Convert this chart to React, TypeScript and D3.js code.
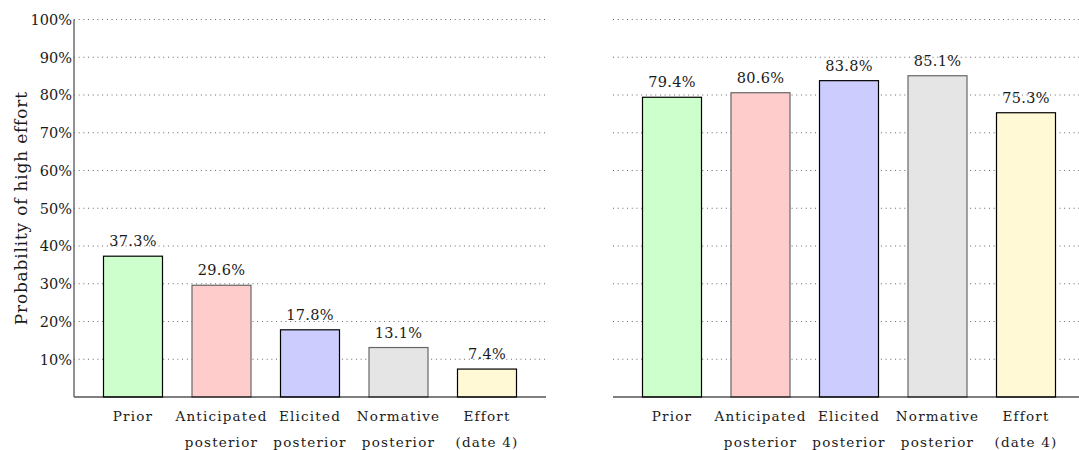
import React from "react";
import * as d3 from "d3";

const categories = ["Prior", "Anticipated posterior", "Elicited posterior", "Normative posterior", "Effort (date 4)"];
const categoryLines = [["Prior"], ["Anticipated", "posterior"], ["Elicited", "posterior"], ["Normative", "posterior"], ["Effort", "(date 4)"]];
const leftValues = [37.3, 29.6, 17.8, 13.1, 7.4];
const rightValues = [79.4, 80.6, 83.8, 85.1, 75.3];
const yTicks = [10, 20, 30, 40, 50, 60, 70, 80, 90, 100];
const fills = ["#ccffcc", "#ffcccc", "#ccccff", "#e5e5e5", "#fff9d6"];
const strokes = ["#000", "#666", "#000", "#666", "#000"];

const W = 1079;
const H = 450;
const FONT = "'DejaVu Serif', serif";
const INK = "#1a1a1a";

const y = d3.scaleLinear().domain([0, 100]).range([397, 19.5]);

function Panel({ x0, x1, values, showAxis }: { x0: number; x1: number; values: number[]; showAxis: boolean }) {
  const x = d3.scaleBand<string>().domain(categories).range([x0, x1]).paddingInner(1 / 3).paddingOuter(1 / 3);
  return (
    <g>
      {yTicks.map((t) => (
        <line key={"g" + t} x1={x0} x2={x1} y1={y(t)} y2={y(t)} stroke="#444" strokeWidth={0.9} strokeDasharray="0.9 3.8" />
      ))}
      {showAxis &&
        yTicks.map((t) => (
          <text key={"t" + t} x={x0 - 2} y={y(t)} dy="0.37em" textAnchor="end" fontFamily={FONT} fontSize={14.5} fill={INK}>
            {t}%
          </text>
        ))}
      {values.map((v, i) => {
        const c = categories[i];
        return (
          <g key={c}>
            <rect x={x(c)} y={y(v)} width={x.bandwidth()} height={y(0) - y(v)} fill={fills[i]} stroke={strokes[i]} strokeWidth={1.2} />
            <text x={(x(c) as number) + x.bandwidth() / 2} y={y(v) - 10} textAnchor="middle" fontFamily={FONT} fontSize={14.5} fill={INK} letterSpacing={0.3}>
              {v.toFixed(1)}%
            </text>
            {categoryLines[i].map((ln, j) => (
              <text key={j} x={(x(c) as number) + x.bandwidth() / 2} y={421 + j * 26} textAnchor="middle" fontFamily={FONT} fontSize={13.5} fill={INK} letterSpacing={1.2}>
                {ln}
              </text>
            ))}
          </g>
        );
      })}
      <line x1={x0} x2={x1} y1={y(0)} y2={y(0)} stroke="#000" strokeWidth={1.2} />
      {showAxis && <line x1={x0} x2={x0} y1={y(0)} y2={y(100)} stroke="#555" strokeWidth={1.3} />}
    </g>
  );
}

export default function App() {
  return (
    <svg width={W} height={H} style={{ position: "absolute", left: 0, top: 0, background: "#fff" }}>
      <Panel x0={74} x1={546} values={leftValues} showAxis={true} />
      <Panel x0={613} x1={1085} values={rightValues} showAxis={false} />
      <text transform={`translate(27,${y(50)}) rotate(-90)`} textAnchor="middle" fontFamily={FONT} fontSize={17} fill={INK} letterSpacing={0.8}>
        Probability of high effort
      </text>
    </svg>
  );
}
